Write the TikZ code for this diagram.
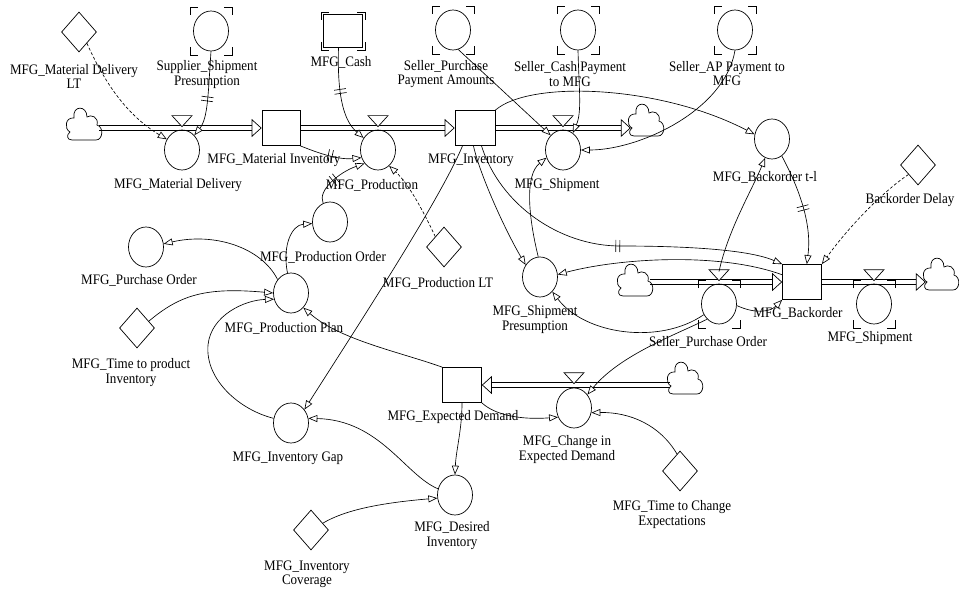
\documentclass[tikz,border=0pt]{standalone}
\usepackage{fontspec}
\setmainfont{Liberation Serif}[FakeStretch=0.9]
\usetikzlibrary{shapes.geometric, arrows.meta, calc, decorations.markings}

\newcommand\vlabel{\fontsize{14.5}{14.5}\selectfont}
% corner brackets of a shadow variable: node, half width, half height
\newcommand\shadowcorners[3]{%
  \draw[line width=.7pt] ($(#1)+(-#2,8-#3)$) -- ++(0,-8) -- ++(8,0)
    ($(#1)+(#2-8,-#3)$) -- ++(8,0) -- ++(0,8)
    ($(#1)+(-#2,#3-8)$) -- ++(0,8) -- ++(8,0)
    ($(#1)+(#2-8,#3)$) -- ++(8,0) -- ++(0,-8);}
% a horizontal flow pipe with its two rails and the open head at its end
\newcommand\flowpipe[2]{%
  \draw[rail] ($(#1)+(0,-2.3)$) -- ($(#2)+(0,-2.3)$);
  \draw[rail] ($(#1)+(0,2.3)$) -- ($(#2)+(0,2.3)$);
  \path[pipetip] (#1) -- (#2);}

\tikzset{
  aux/.style={ellipse, draw, line width=.7pt, minimum width=35pt, minimum height=40pt, inner sep=0pt},
  level/.style={rectangle, draw, line width=.7pt, minimum width=39pt, minimum height=35pt, inner sep=0pt},
  const/.style={diamond, draw, line width=.7pt, minimum width=35pt, minimum height=40pt, inner sep=0pt},
  cloudspot/.style={minimum width=30pt, minimum height=30pt, inner sep=0pt},
  lbl/.style={inner sep=0pt, align=center, font=\vlabel},
  conn/.style={line width=.65pt, -{Triangle[length=9pt,width=7pt,fill=white]}},
  dconn/.style={conn, dash pattern=on 3pt off 2pt},
  delaymark/.style={postaction={decorate, decoration={markings,
      mark=at position #1 with {\draw[-, solid, line width=.65pt] (-2,-6) -- (-2,6) (2,-6) -- (2,6);}}}},
  rail/.style={line width=.7pt, shorten >=9.5pt},
  pipetip/.style={postaction={decorate, decoration={markings,
      mark=at position 1 with {\arrow[line width=.7pt]{Triangle[length=10pt,width=18pt,fill=white]}}}}},
  vcloud/.pic={\draw[line width=.7pt, fill=white] (-12,16) -- (12,16)
      .. controls (19,16) and (20,3) .. (13,1)
      .. controls (15,-7) and (7,-10) .. (3,-7)
      .. controls (3,-19) and (-12,-19) .. (-10,-6)
      .. controls (-19,-7) and (-20,5) .. (-14,8)
      .. controls (-18,11) and (-17,16) .. (-12,16) -- cycle;},
  valve/.pic={\draw[line width=.7pt, fill=white] (-10,-11) -- (0,0) -- (10,-11) -- cycle;}
}

\begin{document}
\begin{tikzpicture}[x=1pt, y=-1pt]
\useasboundingbox (0,0) rectangle (959,591);

% ---------- top row: material and product flow ----------
\node[const] (mdlt) at (79,32) {};
\node[aux] (ssp) at (211,31) {};
\node[level, minimum height=33pt] (cash) at (343,31) {};
\node[aux] (spp) at (453,30) {};
\node[aux] (scp) at (578,30) {};
\node[aux] (sap) at (735,30) {};
\shadowcorners{ssp}{21}{24}
\shadowcorners{cash}{22}{19}
\shadowcorners{spp}{21}{24}
\shadowcorners{scp}{21}{24}
\shadowcorners{sap}{21}{24}

\node[cloudspot] (c1) at (84,128) {};
\node[aux] (md) at (182,150) {};
\node[level, minimum width=38pt] (mi) at (281,128) {};
\node[aux] (prod) at (378,150) {};
\node[level, minimum width=40pt] (inv) at (475,128) {};
\node[aux] (ship) at (563,150) {};
\node[cloudspot] (c2) at (646,128) {};

\node[aux] (bt1) at (772,139) {};
\node[const] (bd) at (918,165) {};

% ---------- planning side ----------
\node[aux] (pur) at (146,247) {};
\node[aux] (po) at (330,222) {};
\node[const] (plt) at (444,247) {};
\node[aux] (pp) at (291,293) {};
\node[const] (ttp) at (137,328) {};
\node[aux] (shp) at (540,277) {};

% ---------- backorder flow ----------
\node[cloudspot] (c3) at (635,282) {};
\node[aux] (spo) at (719,304) {};
\node[level] (bo) at (802,282) {};
\node[aux] (ship2) at (874,304) {};
\node[cloudspot] (c4) at (941,282) {};
\shadowcorners{spo}{21}{24}
\shadowcorners{ship2}{21}{24}

% ---------- demand expectation ----------
\node[level] (ed) at (462,385) {};
\node[aux] (chg) at (574,408) {};
\node[cloudspot] (c5) at (685,385) {};
\node[aux] (gap) at (291,423) {};
\node[aux] (di) at (455,495) {};
\node[const] (cov) at (311,530) {};
\node[const] (ttc) at (680,471) {};

% clouds
\pic at ($(c1)+(0,-4)$) {vcloud};
\pic at ($(c2)+(0,-8)$) {vcloud};
\pic at ($(c3)+(0,-2)$) {vcloud};
\pic at ($(c4)+(0,-8)$) {vcloud};
\pic at ($(c5)+(0,-7)$) {vcloud};

% pipes
\flowpipe{c1.east}{c1.east -| mi.west}
\flowpipe{mi.east}{mi.east -| inv.west}
\flowpipe{inv.east}{inv.east -| c2.west}
\flowpipe{c3.east}{c3.east -| bo.west}
\flowpipe{bo.east}{bo.east -| c4.west}
\flowpipe{c5.west}{c5.west -| ed.east}

% valves
\pic at ($(md.north)+(0,-3)$) {valve};
\pic at ($(prod.north)+(0,-3)$) {valve};
\pic at ($(ship.north)+(0,-3)$) {valve};
\pic at ($(spo.north)+(0,-3)$) {valve};
\pic at ($(ship2.north)+(0,-3)$) {valve};
\pic at ($(chg.north)+(0,-4)$) {valve};
\coordinate (spoV) at ($(spo.north)+(0,-12)$);

% ---------- labels ----------
\node[lbl] (mdltL) at (74,76.5) {MFG\_Material Delivery\\LT};
\node[lbl] (sspL) at (207,74.5) {Supplier\_Shipment\\Presumption};
\node[lbl] (cashL) at (341,62) {MFG\_Cash};
\node[lbl] (sppL) at (446,74) {Seller\_Purchase\\Payment Amounts};
\node[lbl] (scpL) at (570,74) {Seller\_Cash Payment\\to MFG};
\node[lbl] (sapL) at (727,73.5) {Seller\_AP Payment to\\MFG};
\node[lbl] (mdL) at (178,185) {MFG\_Material Delivery};
\node[lbl] (miL) at (274,160) {MFG\_Material Inventory};
\node[lbl] (prodL) at (372,185) {MFG\_Production};
\node[lbl] (invL) at (471,160) {MFG\_Inventory};
\node[lbl] (shipL) at (557,185) {MFG\_Shipment};
\node[lbl] (bt1L) at (765,177) {MFG\_Backorder t-l};
\node[lbl] (bdL) at (910,200) {Backorder Delay};
\node[lbl] (purL) at (139,280) {MFG\_Purchase Order};
\node[lbl] (poL) at (323,257) {MFG\_Production Order};
\node[lbl] (pltL) at (438,283) {MFG\_Production LT};
\node[lbl] (ppL) at (284,328) {MFG\_Production Plan};
\node[lbl] (ttpL) at (131,372.5) {MFG\_Time to product\\Inventory};
\node[lbl] (shpL) at (535,319.5) {MFG\_Shipment\\Presumption};
\node[lbl] (spoL) at (708,342) {Seller\_Purchase Order};
\node[lbl] (boL) at (798,313) {MFG\_Backorder};
\node[lbl] (ship2L) at (870,338) {MFG\_Shipment};
\node[lbl] (edL) at (453,417) {MFG\_Expected Demand};
\node[lbl] (chgL) at (567,449.5) {MFG\_Change in\\Expected Demand};
\node[lbl] (gapL) at (288,458) {MFG\_Inventory Gap};
\node[lbl] (diL) at (452,535.5) {MFG\_Desired\\Inventory};
\node[lbl] (covL) at (307,574.5) {MFG\_Inventory\\Coverage};
\node[lbl] (ttcL) at (672,514.5) {MFG\_Time to Change\\Expectations};

% ---------- connectors ----------
\draw[dconn] (mdlt.-55) .. controls (110,95) and (135,120) .. (md.145);
\draw[conn, delaymark=0.55] (ssp.south) .. controls (208,95) and (208,118) .. (md.50);
\draw[conn, delaymark=0.45] (cash.-105) .. controls (337,100) and (345,122) .. (prod.140);
\draw[conn, delaymark=0.5] (mi.south east) .. controls (318,153) and (338,160) .. (prod.205);
\draw[conn, delaymark=0.45] (po.110) .. controls (317,190) and (340,172) .. (prod.225);
\draw[dconn] (plt.130) .. controls (425,215) and (410,185) .. (prod.-55);
\draw[conn] (spp.-75) -- (ship.130);
\draw[conn] (scp.south) .. controls (579,90) and (582,112) .. (ship.60);
\draw[conn] (sap.south) .. controls (725,110) and (640,150) .. (ship.east);
\draw[conn] (inv.north east) .. controls (530,80) and (660,85) .. (bt1.165);
\draw[conn] (inv.-125) .. controls (440,200) and (355,330) .. (gap.45);
\draw[conn] (inv.-95) .. controls (480,175) and (505,230) .. (shp.140);
\draw[conn, delaymark=0.52] (inv.-70) .. controls (500,205) and (560,246) .. (620,246)
   .. controls (690,246) and (750,250) .. (bo.north west);
\draw[conn] (bo.160) .. controls (720,252) and (620,258) .. (shp.8);
\draw[conn] (spo.215) .. controls (660,345) and (585,335) .. (shp.-50);
\draw[conn] (spo.232) .. controls (675,335) and (620,355) .. (chg.45);
\draw[conn] (spoV) .. controls (728,230) and (752,190) .. (bt1.250);
\draw[conn] (spo.-5) .. controls (755,314) and (770,312) .. (bo.south west);
\draw[conn, delaymark=0.5] (bt1.-60) .. controls (800,190) and (812,225) .. (bo.75);
\draw[dconn] (bd.225) .. controls (885,190) and (850,225) .. (bo.north east);
\draw[conn] (shp.95) .. controls (528,215) and (525,175) .. (ship.205);
\draw[conn] (pp.135) .. controls (262,248) and (215,232) .. (pur.10);
\draw[conn] (pp.100) .. controls (282,245) and (292,225) .. (po.185);
\draw[conn] (ttp.30) .. controls (180,295) and (205,287) .. (pp.180);
\draw[conn] (gap.165) .. controls (240,410) and (205,380) .. (208,345)
   .. controls (211,315) and (245,300) .. (pp.200);
\draw[conn] (ed.north west) .. controls (400,352) and (340,340) .. (pp.-50);
\draw[conn] (di.160) .. controls (405,475) and (380,420) .. (gap.15);
\draw[conn] (cov.30) .. controls (345,510) and (380,503) .. (di.190);
\draw[conn] (ed.south) .. controls (462,430) and (456,450) .. (di.north);
\draw[conn] (ed.south east) .. controls (495,415) and (520,420) .. (chg.210);
\draw[conn] (ttc.100) .. controls (660,425) and (630,412) .. (chg.-15);
\end{tikzpicture}
\end{document}
